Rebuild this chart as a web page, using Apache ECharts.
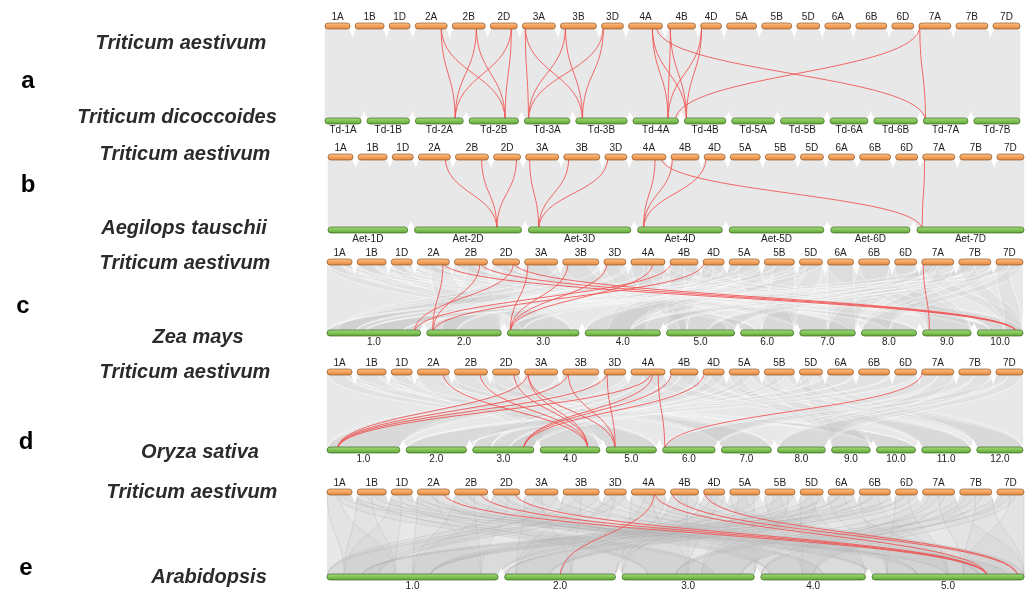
<!DOCTYPE html>
<html><head><meta charset="utf-8">
<script src="https://cdn.jsdelivr.net/npm/echarts@6/dist/echarts.min.js"></script>
<style>html,body{margin:0;padding:0;background:#fff}#c{width:1029px;height:590px}</style>
</head><body><div id="c"></div>
<script>
// ---------------- DATA ----------------
const wheatChr = ['1A','1B','1D','2A','2B','2D','3A','3B','3D','4A','4B','4D','5A','5B','5D','6A','6B','6D','7A','7B','7D'];
const wheatLen = [592,686,497,757,781,639,781,852,520,804,662,497,710,710,544,615,733,520,757,757,639];

const tdChr = ['Td-1A','Td-1B','Td-2A','Td-2B','Td-3A','Td-3B','Td-4A','Td-4B','Td-5A','Td-5B','Td-6A','Td-6B','Td-7A','Td-7B'];
const tdLen = [585,689,776,800,739,832,737,673,696,708,614,707,724,748];

const aetChr = ['Aet-1D','Aet-2D','Aet-3D','Aet-4D','Aet-5D','Aet-6D','Aet-7D'];
const aetLen = [473,636,608,503,563,471,636];

const zmChr = ['1.0','2.0','3.0','4.0','5.0','6.0','7.0','8.0','9.0','10.0'];
const zmLen = [307,244,235,247,223,174,182,181,159,150];

const osChr = ['1.0','2.0','3.0','4.0','5.0','6.0','7.0','8.0','9.0','10.0','11.0','12.0'];
const osLen = [43.3,35.9,36.4,35.5,29.9,31.2,29.7,28.4,23.0,23.2,29.0,27.5];

const atChr = ['1.0','2.0','3.0','4.0','5.0'];
const atLen = [30.4,19.7,23.5,18.6,27.0];

// red links: [wheat chr, position fraction, other chr, position fraction]
const redA = [
 ['2A',.81,'Td-2A',.83],['2A',.81,'Td-2B',.73],
 ['2B',.73,'Td-2A',.83],['2B',.73,'Td-2B',.73],
 ['2D',.78,'Td-2A',.83],['2D',.78,'Td-2B',.73],
 ['3A',.09,'Td-3A',.09],['3A',.09,'Td-3B',.13],
 ['3B',.14,'Td-3A',.09],['3B',.14,'Td-3B',.13],
 ['3D',.09,'Td-3A',.09],['3D',.09,'Td-3B',.13],
 ['4A',.70,'Td-4A',.77],['4A',.70,'Td-4B',.05],
 ['4B',.10,'Td-4A',.77],['4B',.10,'Td-4B',.05],
 ['4D',.05,'Td-4A',.77],['4D',.05,'Td-4B',.05],
 ['4A',.82,'Td-7A',.05],['7A',.03,'Td-4A',.93],['7A',.03,'Td-7A',.05]
];
const redB = [
 ['2A',.84,'Aet-2D',.77],['2B',.79,'Aet-2D',.77],['2D',.85,'Aet-2D',.77],
 ['3A',.12,'Aet-3D',.10],['3B',.14,'Aet-3D',.10],['3D',.14,'Aet-3D',.10],
 ['4A',.68,'Aet-4D',.07],['4B',.05,'Aet-4D',.07],['4D',.10,'Aet-4D',.07],
 ['4A',.85,'Aet-7D',.05],['7A',.06,'Aet-7D',.05]
];
const redC = [
 ['2A',.80,'2.0',.08],['2B',.77,'2.0',.08],['2D',.78,'1.0',.93],
 ['2A',.80,'10.0',.87],['2B',.77,'10.0',.87],['2D',.78,'10.0',.87],
 ['3A',.10,'3.0',.04],['3B',.15,'3.0',.04],['3D',.15,'3.0',.04],['4A',.65,'3.0',.04],
 ['4B',.05,'1.0',.93],['4D',.05,'2.0',.08],
 ['7A',.05,'9.0',.14]
];
const redD = [
 ['3A',.10,'1.0',.14],['3B',.15,'1.0',.14],['3D',.15,'1.0',.14],['4A',.60,'1.0',.14],
 ['4A',.65,'3.0',.83],['4B',.05,'3.0',.83],['4D',.05,'3.0',.83],
 ['2A',.80,'4.0',.80],['2B',.77,'4.0',.80],['2D',.78,'4.0',.80],['3A',.10,'4.0',.80],
 ['3A',.10,'5.0',.18],['3B',.15,'5.0',.18],['3D',.15,'5.0',.18],
 ['4A',.80,'6.0',.04],['7A',.02,'6.0',.04]
];
const redE = [
 ['2A',.80,'5.0',.76],['2B',.77,'5.0',.76],['2D',.80,'5.0',.76],
 ['4A',.68,'2.0',.50],['4A',.68,'5.0',.76],
 ['4B',.05,'5.0',.96],['4D',.05,'5.0',.96]
];

// gray synteny blocks: [group, wheat from, wheat to, other chr, other from, other to]
const grayGroupA = [[1,0,1,'Td-1A',0,1],[1,0,1,'Td-1B',0,1],[2,0,1,'Td-2A',0,1],[2,0,1,'Td-2B',0,1],
 [3,0,1,'Td-3A',0,1],[3,0,1,'Td-3B',0,1],[4,0,1,'Td-4A',0,1],[4,0,1,'Td-4B',0,1],
 [5,0,1,'Td-5A',0,1],[5,0,1,'Td-5B',0,1],[6,0,1,'Td-6A',0,1],[6,0,1,'Td-6B',0,1],[7,0,1,'Td-7A',0,1],[7,0,1,'Td-7B',0,1]];
const grayGroupB = [[1,0,1,'Aet-1D',0,1],[2,0,1,'Aet-2D',0,1],[3,0,1,'Aet-3D',0,1],[4,0,1,'Aet-4D',0,1],
 [5,0,1,'Aet-5D',0,1],[6,0,1,'Aet-6D',0,1],[7,0,1,'Aet-7D',0,1]];
const grayGroupC = [
 [1,0,.6,'3.0',.2,.9],[1,.6,1,'8.0',.5,1],[1,0,.5,'6.0',0,.3],
 [2,0,.6,'7.0',0,.9],[2,.4,1,'2.0',.2,1],[2,0,.5,'10.0',0,.4],
 [3,0,1,'1.0',.1,1],[3,0,.7,'5.0',.2,.9],
 [4,0,.6,'2.0',0,.4],[4,.3,1,'10.0',.3,1],[4,.4,1,'4.0',.3,.8],[4,0,.5,'5.0',0,.3],
 [5,0,.6,'4.0',0,.6],[5,.5,1,'1.0',0,.3],[5,.3,1,'6.0',.4,1],[5,0,.4,'3.0',0,.2],
 [6,0,1,'9.0',.1,1],[6,0,1,'7.0',.5,1],
 [7,0,.6,'4.0',.6,1],[7,.3,1,'1.0',.4,.8],[7,0,.5,'10.0',.6,1],[7,.5,1,'8.0',0,.5],[7,0,.4,'5.0',.6,1]
];
const grayGroupD = [
 [1,0,.7,'5.0',0,1],[1,.7,1,'10.0',0,1],
 [2,0,.7,'4.0',0,1],[2,.6,1,'7.0',0,1],
 [3,0,1,'1.0',0,1],
 [4,0,.4,'3.0',0,.3],[4,.3,1,'11.0',0,1],[4,.4,1,'3.0',.3,1],
 [5,0,.4,'9.0',0,1],[5,.4,.7,'3.0',.6,1],[5,.7,1,'12.0',0,1],
 [6,0,1,'2.0',0,1],
 [7,0,.5,'6.0',0,1],[7,.5,1,'8.0',0,1]
];
const grayGroupE = [
 [1,0,.5,'1.0',.1,.4],[1,.3,1,'3.0',.2,.7],[1,.5,1,'5.0',.5,.9],
 [2,0,.6,'1.0',.5,.9],[2,.4,1,'4.0',.1,.6],[2,0,.4,'5.0',0,.3],
 [3,0,.5,'2.0',.1,.6],[3,.4,1,'1.0',0,.3],[3,.2,.8,'5.0',.3,.7],
 [4,0,.6,'3.0',0,.5],[4,.4,1,'2.0',.5,1],[4,.2,.6,'5.0',.7,1],
 [5,0,.5,'4.0',.4,1],[5,.5,1,'1.0',.6,1],[5,.3,.8,'3.0',.6,1],
 [6,0,.6,'5.0',.1,.5],[6,.4,1,'2.0',0,.4],[6,0,.5,'1.0',.2,.6],
 [7,0,.5,'3.0',.4,.9],[7,.5,1,'5.0',.6,1],[7,.2,.7,'4.0',0,.5]
];
const subgenomes = ['A','B','D'];
function expandGroups(list){
  const out=[];
  list.forEach(r=>subgenomes.forEach(s=>out.push([r[0]+s,r[1],r[2],r[3],r[4],r[5]])));
  return out;
}

// ---------------- LAYOUT / STYLE ----------------
const panels = [
 {letter:'a',lx:28,ly:81,top:26,bot:121,x0:325,x1:1020,topGap:5,botGap:5.8,notch:13,
  botChr:tdChr,botLen:tdLen,red:redA,gray:expandGroups(grayGroupA),style:'solid',
  sp1:'Triticum aestivum',s1x:181,s1y:43,sp2:'Triticum dicoccoides',s2x:177,s2y:117},
 {letter:'b',lx:28,ly:185,top:157,bot:230,x0:328,x1:1024,topGap:5,botGap:6.8,notch:12,
  botChr:aetChr,botLen:aetLen,red:redB,gray:expandGroups(grayGroupB),style:'solid',
  sp1:'Triticum aestivum',s1x:185,s1y:154,sp2:'Aegilops tauschii',s2x:184,s2y:228},
 {letter:'c',lx:23,ly:306,top:262,bot:333,x0:327,x1:1023,topGap:5,botGap:6,notch:14,
  botChr:zmChr,botLen:zmLen,red:redC,gray:expandGroups(grayGroupC),style:'lines',
  sp1:'Triticum aestivum',s1x:185,s1y:263,sp2:'Zea mays',s2x:198,s2y:337},
 {letter:'d',lx:26,ly:442,top:372,bot:450,x0:327,x1:1023,topGap:5,botGap:6.2,notch:14,
  botChr:osChr,botLen:osLen,red:redD,gray:expandGroups(grayGroupD),style:'lines',
  sp1:'Triticum aestivum',s1x:185,s1y:372,sp2:'Oryza sativa',s2x:200,s2y:452},
 {letter:'e',lx:26,ly:568,top:492,bot:577,x0:327,x1:1024,topGap:5,botGap:6.5,notch:12,
  botChr:atChr,botLen:atLen,red:redE,gray:expandGroups(grayGroupE),style:'dense',
  sp1:'Triticum aestivum',s1x:192,s1y:492,sp2:'Arabidopsis',s2x:209,s2y:577}
];

function layoutRow(lens, gap, W){
  const sum = lens.reduce((a,b)=>a+b,0);
  const k = (W - gap*(lens.length-1))/sum;
  let x = 0;
  return lens.map(l=>{const s=x; x += l*k + gap; return [s, s+l*k];});
}
function ribbonPath(a,b,c,e,yt,yb){
  const ym=(yt+yb)/2;
  return `M${a} ${yt}L${b} ${yt}C${b} ${ym} ${e} ${ym} ${e} ${yb}L${c} ${yb}C${c} ${ym} ${a} ${ym} ${a} ${yt}Z`;
}

const FONT = '"Liberation Sans", Arial, sans-serif';
const orangeFill = new echarts.graphic.LinearGradient(0,0,0,1,[{offset:0,color:'#FCC48E'},{offset:.5,color:'#F6A25B'},{offset:1,color:'#DC843F'}]);
const greenFill = new echarts.graphic.LinearGradient(0,0,0,1,[{offset:0,color:'#A8DA84'},{offset:.5,color:'#80C452'},{offset:1,color:'#5E9E38'}]);
const BASE_GRAY = '#e8e8e8';
const ribbonStyles = {
  solid: {fill:BASE_GRAY,stroke:BASE_GRAY,lineWidth:0.5},
  lines: {fill:'rgba(200,200,200,0.16)',stroke:'rgba(255,255,255,0.75)',lineWidth:0.7},
  dense: {fill:'rgba(195,195,195,0.14)',stroke:'rgba(165,165,165,0.45)',lineWidth:0.6}
};

const grids=[], xAxes=[], yAxes=[], series=[], graphics=[];

panels.forEach((p,pi)=>{
  const W = p.x1 - p.x0;
  grids.push({left:p.x0, width:W, top:p.top, height:p.bot-p.top, containLabel:false});
  xAxes.push({gridIndex:pi,type:'value',min:0,max:W,show:false});
  yAxes.push({gridIndex:pi,type:'value',min:0,max:1,show:false});
  const topPos = layoutRow(wheatLen, p.topGap, W);
  const botPos = layoutRow(p.botLen, p.botGap, W);
  const tX = (n,f)=>{const s=topPos[wheatChr.indexOf(n)]; return s[0]+(s[1]-s[0])*f;};
  const bX = (n,f)=>{const s=botPos[p.botChr.indexOf(n)]; return s[0]+(s[1]-s[0])*f;};

  // background band (whole genome vs whole genome) + synteny blocks
  const bg = [[topPos[0][0], topPos[topPos.length-1][1], botPos[0][0], botPos[botPos.length-1][1]]];
  const g = p.gray.map(r=>[tX(r[0],r[1]),tX(r[0],r[2]),bX(r[3],r[4]),bX(r[3],r[5])]);
  const allG = bg.concat(g);
  series.push({type:'custom',xAxisIndex:pi,yAxisIndex:pi,z:1,silent:true,
    data:allG.map(d=>[d[0],1,d[1],d[2],d[3]]),
    renderItem:(params,api)=>{
      const d=allG[params.dataIndex];
      const a=api.coord([d[0],1]), b=api.coord([d[1],1]), c=api.coord([d[2],0]), e=api.coord([d[3],0]);
      const st = params.dataIndex===0 ? {fill:BASE_GRAY} : ribbonStyles[p.style];
      return {type:'path',shape:{pathData:ribbonPath(a[0],b[0],c[0],e[0],a[1],c[1])},style:st};
    }});

  // white notches below/above gaps between chromosomes
  const gaps = [];
  for(let i=0;i<topPos.length-1;i++) gaps.push([topPos[i][1],topPos[i+1][0],1]);
  for(let i=0;i<botPos.length-1;i++) gaps.push([botPos[i][1],botPos[i+1][0],0]);
  series.push({type:'custom',xAxisIndex:pi,yAxisIndex:pi,z:2,silent:true,
    data:gaps.map(d=>[d[0],d[2],d[1]]),
    renderItem:(params,api)=>{
      const d=gaps[params.dataIndex];
      const a=api.coord([d[0],d[2]]), b=api.coord([d[1],d[2]]);
      const h = d[2]===1 ? p.notch : -p.notch*0.8;
      const y=a[1], cx=(a[0]+b[0])/2, l=a[0]-1.5, r=b[0]+1.5;
      const path=`M${l} ${y}C${l+1} ${y+h*0.4} ${cx} ${y+h*0.7} ${cx} ${y+h}C${cx} ${y+h*0.7} ${r-1} ${y+h*0.4} ${r} ${y}Z`;
      return {type:'path',shape:{pathData:path},style:{fill:'#ffffff'}};
    }});

  // red links
  const r = p.red.map(x=>[tX(x[0],x[1]),bX(x[2],x[3])]);
  series.push({type:'custom',xAxisIndex:pi,yAxisIndex:pi,z:3,silent:true,
    data:r.map(d=>[d[0],1,d[1]]),
    renderItem:(params,api)=>{
      const d=r[params.dataIndex];
      const a=api.coord([d[0],1]), b=api.coord([d[1],0]);
      const ym=(a[1]+b[1])/2;
      return {type:'bezierCurve',shape:{x1:a[0],y1:a[1],x2:b[0],y2:b[1],cpx1:a[0],cpy1:ym,cpx2:b[0],cpy2:ym},
        style:{fill:null,stroke:'#F24F4F',lineWidth:0.9,opacity:0.95}};
    }});

  // chromosome bars
  const bars = wheatChr.map((n,i)=>({x0:topPos[i][0],x1:topPos[i][1],y:1,name:n,top:true}))
    .concat(p.botChr.map((n,i)=>({x0:botPos[i][0],x1:botPos[i][1],y:0,name:n,top:false})));
  series.push({type:'custom',xAxisIndex:pi,yAxisIndex:pi,z:4,silent:true,
    data:bars.map(b=>[b.x0,b.y,b.x1]),
    renderItem:(params,api)=>{
      const b=bars[params.dataIndex];
      const a=api.coord([b.x0,b.y]), c=api.coord([b.x1,b.y]);
      const h=6;
      return {type:'group',children:[
        {type:'rect',shape:{x:a[0],y:a[1]-h/2,width:c[0]-a[0],height:h,r:3},
          style:{fill:b.top?orangeFill:greenFill,stroke:b.top?'#8C5A2E':'#3E6B25',lineWidth:0.7}},
        {type:'text',style:{text:b.name,x:(a[0]+c[0])/2,y:b.top?a[1]-9:a[1]+9,
          textAlign:'center',textVerticalAlign:'middle',font:'10px '+FONT,fill:'#222'}}
      ]};
    }});

  graphics.push({type:'text',x:p.lx,y:p.ly,style:{text:p.letter,font:'bold 24px '+FONT,fill:'#000',textAlign:'center',textVerticalAlign:'middle'}});
  graphics.push({type:'text',x:p.s1x,y:p.s1y,style:{text:p.sp1,font:'italic bold 20px '+FONT,fill:'#2b2b2b',textAlign:'center',textVerticalAlign:'middle'}});
  graphics.push({type:'text',x:p.s2x,y:p.s2y,style:{text:p.sp2,font:'italic bold 20px '+FONT,fill:'#2b2b2b',textAlign:'center',textVerticalAlign:'middle'}});
});

const chart = echarts.init(document.getElementById('c'),null,{renderer:'canvas'});
chart.setOption({animation:false,backgroundColor:'#fff',grid:grids,xAxis:xAxes,yAxis:yAxes,series:series,graphic:graphics});
</script></body></html>
